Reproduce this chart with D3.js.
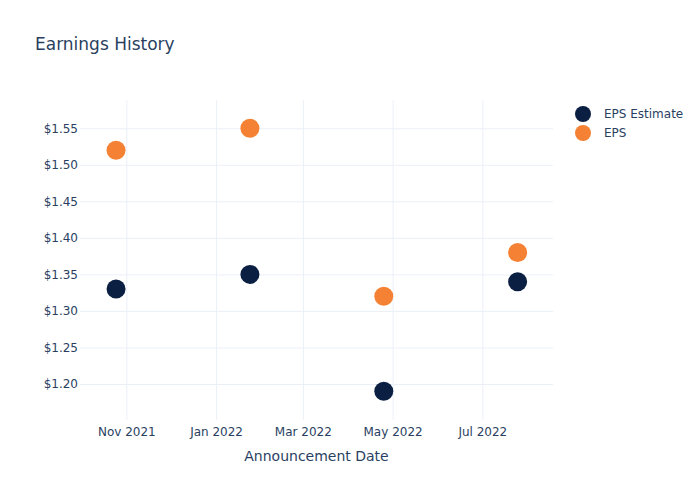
<!DOCTYPE html>
<html><head><meta charset="utf-8">
<script src="https://cdn.jsdelivr.net/npm/d3@7"></script>
<style>body{margin:0;background:#fff}svg{display:block}text{font-family:"DejaVu Sans",Verdana,sans-serif}</style>
</head><body>
<script>
const dates = ["2021-10-25","2022-01-24","2022-04-25","2022-07-25"];
const epsEstimate = [1.33, 1.35, 1.19, 1.34];
const eps = [1.52, 1.55, 1.32, 1.38];
const yTicks = [1.20,1.25,1.30,1.35,1.40,1.45,1.50,1.55];
const xTickDates = ["2021-11-01","2022-01-01","2022-03-01","2022-05-01","2022-07-01"];
const seriesNames = ["EPS Estimate","EPS"];
const colors = ["#0b1f42","#f58234"];

const W=700,H=500, L=80,R=553,T=100,B=420;
const parse = s => { const [y,m,d]=s.split("-").map(Number); return new Date(y,m-1,d); };
const svg = d3.select("body").append("svg").attr("width",W).attr("height",H);

const x = d3.scaleTime().domain([new Date(2021,8,30,12), new Date(2022,7,18,1)]).range([L,R]);
const y = d3.scaleLinear().domain([1.1507,1.5887]).range([B,T]);

const txt="#2a3f5f", grid="#ebf0f8";
// gridlines
const gx = d3.axisBottom(x).tickValues(xTickDates.map(parse)).tickSize(-(B-T)).tickFormat(d3.timeFormat("%b %Y"));
const gxg = svg.append("g").attr("transform",`translate(0,${B})`).call(gx);
gxg.select(".domain").remove();
gxg.selectAll("line").attr("stroke",grid);
gxg.selectAll("text").attr("fill",txt).attr("font-size",12).attr("dy","1.0em").attr("y",4);

const gy = d3.axisLeft(y).tickValues(yTicks).tickSize(-(R-L)).tickFormat(d=>"$"+d.toFixed(2));
const gyg = svg.append("g").attr("transform",`translate(${L},0)`).call(gy);
gyg.select(".domain").remove();
gyg.selectAll("line").attr("stroke",grid);
gyg.selectAll("text").attr("fill",txt).attr("font-size",12).attr("x",-2);

const series=[epsEstimate,eps];
series.forEach((vals,i)=>{
  svg.append("g").selectAll("circle").data(vals).join("circle")
    .attr("cx",(d,j)=>x(parse(dates[j]))).attr("cy",d=>y(d)).attr("r",9.5)
    .attr("fill",colors[i]);
});

svg.append("text").attr("x",35).attr("y",50).attr("font-size",17).attr("fill",txt).text("Earnings History");
svg.append("text").attr("x",(L+R)/2).attr("y",461).attr("text-anchor","middle").attr("font-size",14).attr("fill",txt).text("Announcement Date");

const lg = svg.append("g");
seriesNames.forEach((n,i)=>{
  lg.append("circle").attr("cx",583).attr("cy",114+i*19).attr("r",8).attr("fill",colors[i]);
  lg.append("text").attr("x",604).attr("y",114+i*19).attr("dy","0.35em").attr("font-size",12).attr("fill",txt).text(n);
});
</script>
</body></html>
